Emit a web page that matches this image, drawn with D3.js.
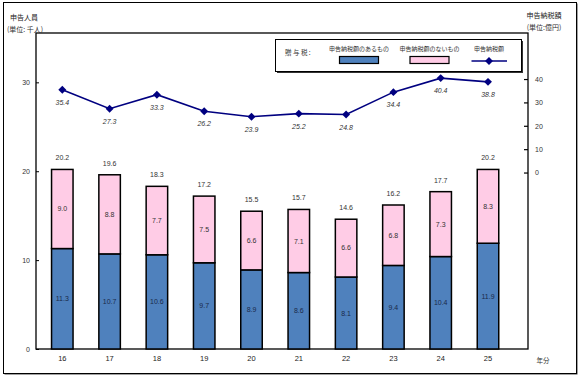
<!DOCTYPE html>
<html><head><meta charset="utf-8">
<script src="https://cdn.jsdelivr.net/npm/d3@7"></script>
<style>body{margin:0;background:#fff}svg{display:block}text{font-family:"Liberation Sans",Arial,sans-serif}</style>
</head><body>
<svg id="c" width="580" height="378"></svg>
<script>
const years = ["16","17","18","19","20","21","22","23","24","25"];
const withTax = [11.3,10.7,10.6,9.7,8.9,8.6,8.1,9.4,10.4,11.9];
const withoutTax = [9.0,8.8,7.7,7.5,6.6,7.1,6.6,6.8,7.3,8.3];
const totals = [20.2,19.6,18.3,17.2,15.5,15.7,14.6,16.2,17.7,20.2];
const taxAmount = [35.4,27.3,33.3,26.2,23.9,25.2,24.8,34.4,40.4,38.8];
const leftTicks = [0,10,20,30];
const rightTicks = [0,10,20,30,40];

const svg = d3.select("#c");
const jp = '"Noto Sans CJK JP","Noto Sans",sans-serif';
// outer frame with slight shadow
svg.append("rect").attr("x",4.5).attr("y",3.5).attr("width",573).attr("height",371).attr("fill","#444");
svg.append("rect").attr("x",3.5).attr("y",2.5).attr("width",573).attr("height",371)
  .attr("fill","#fff").attr("stroke","#000").attr("stroke-width",1);

const L=36, R=528, T=33, B=349;
const x = d3.scalePoint().domain(years).range([62.3,488]);
const y = d3.scaleLinear().domain([0,35.55]).range([B,T]);
const y2 = d3.scaleLinear().domain([-75.5,59.7]).range([B,T]);
const bw = 21.5;

// plot frame
svg.append("rect").attr("x",L).attr("y",T).attr("width",R-L).attr("height",B-T)
  .attr("fill","none").attr("stroke","#000").attr("stroke-width",1.3);

// left axis
const ga = svg.append("g").attr("transform",`translate(${L},0)`)
  .call(d3.axisRight(y).tickValues(leftTicks).tickSize(3).tickFormat(d3.format("d")));
ga.select(".domain").remove();
ga.selectAll("text").attr("x",-6).attr("text-anchor","end").style("font-size","7px").attr("fill","#333");
// right axis
const gb = svg.append("g").attr("transform",`translate(${R},0)`)
  .call(d3.axisLeft(y2).tickValues(rightTicks).tickSize(4).tickFormat(d3.format("d")));
gb.select(".domain").remove();
gb.selectAll("line").attr("stroke-width",1.2);
gb.selectAll("text").attr("x",7).attr("text-anchor","start").style("font-size","7px").attr("fill","#333");

// bars
const data = years.map((yr,i)=>({yr,a:withTax[i],b:withoutTax[i],t:totals[i],m:taxAmount[i]}));
const g = svg.append("g");
g.selectAll(".ba").data(data).join("rect")
  .attr("x",d=>x(d.yr)-bw/2).attr("width",bw)
  .attr("y",d=>y(d.a)).attr("height",d=>y(0)-y(d.a))
  .attr("fill","#4F81BD").attr("stroke","#000").attr("stroke-width",1.5);
g.selectAll(".bb").data(data).join("rect")
  .attr("x",d=>x(d.yr)-bw/2).attr("width",bw)
  .attr("y",d=>y(d.t)).attr("height",d=>y(d.a)-y(d.t))
  .attr("fill","#FFCCE6").attr("stroke","#000").attr("stroke-width",1.5);
// labels
g.selectAll(".la").data(data).join("text")
  .attr("x",d=>x(d.yr)).attr("y",d=>y(d.a/2)+2.5).attr("text-anchor","middle")
  .style("font-size","7px").attr("fill","#1a2a4a").text(d=>d.a.toFixed(1));
g.selectAll(".lb").data(data).join("text")
  .attr("x",d=>x(d.yr)).attr("y",d=>y(d.a+d.b/2)+2.5).attr("text-anchor","middle")
  .style("font-size","7px").attr("fill","#333").text(d=>d.b.toFixed(1));
g.selectAll(".lt").data(data).join("text")
  .attr("x",d=>x(d.yr)).attr("y",d=>y(d.t)-9).attr("text-anchor","middle")
  .style("font-size","7px").attr("fill","#333").text(d=>d.t.toFixed(1));
// x labels
g.selectAll(".xl").data(years).join("text")
  .attr("x",d=>x(d)).attr("y",360.5).attr("text-anchor","middle")
  .style("font-size","7.5px").attr("fill","#222").text(d=>d);
svg.append("text").attr("x",543).attr("y",363).attr("text-anchor","middle")
  .style("font-size","6.5px").style("font-family",jp).attr("fill","#333").text("年分");

// line
const line = d3.line().x(d=>x(d.yr)).y(d=>y2(d.m));
g.append("path").datum(data).attr("d",line).attr("fill","none").attr("stroke","#000080").attr("stroke-width",1.6);
const diamond = d3.symbol().type(d3.symbolDiamond2).size(40);
g.selectAll(".pt").data(data).join("path")
  .attr("transform",d=>`translate(${x(d.yr)},${y2(d.m)})`).attr("d",diamond).attr("fill","#000080");
g.selectAll(".lm").data(data).join("text")
  .attr("x",d=>x(d.yr)).attr("y",d=>y2(d.m)+15).attr("text-anchor","middle")
  .style("font-size","7px").style("font-style","italic").attr("fill","#333").text(d=>d.m.toFixed(1));

// titles
svg.append("text").attr("x",24).attr("y",20).attr("text-anchor","middle")
  .style("font-size","7px").style("font-family",jp).attr("fill","#222").text("申告人員");
svg.append("text").attr("x",25).attr("y",31.5).attr("text-anchor","middle")
  .style("font-size","7px").style("font-family",jp).attr("fill","#333").text("(単位: 千人)");
svg.append("text").attr("x",544).attr("y",18).attr("text-anchor","middle")
  .style("font-size","7px").style("font-family",jp).attr("fill","#222").text("申告納税額");
svg.append("text").attr("x",544).attr("y",30).attr("text-anchor","middle")
  .style("font-size","7px").style("font-family",jp).attr("fill","#333").text("(単位:億円)");

// legend
svg.append("rect").attr("x",277).attr("y",41).attr("width",246).attr("height",32).attr("fill","#333");
svg.append("rect").attr("x",275.5).attr("y",39.5).attr("width",246).attr("height",32)
  .attr("fill","#fff").attr("stroke","#000").attr("stroke-width",1);
svg.append("text").attr("x",285).attr("y",55).style("font-size","6.5px").style("font-family",jp)
  .attr("fill","#333").text("贈 与 税 :");
const leg = [{t:"申告納税額のあるもの",c:"#4F81BD",cx:359},{t:"申告納税額のないもの",c:"#FFCCE6",cx:429.5}];
leg.forEach(l=>{
  svg.append("text").attr("x",l.cx).attr("y",51).attr("text-anchor","middle")
    .style("font-size","6px").style("font-family",jp).attr("fill","#333").text(l.t);
  svg.append("rect").attr("x",l.cx-19.5).attr("y",56.5).attr("width",39).attr("height",7)
    .attr("fill",l.c).attr("stroke","#000").attr("stroke-width",1.2);
});
svg.append("text").attr("x",489).attr("y",51).attr("text-anchor","middle")
  .style("font-size","6px").style("font-family",jp).attr("fill","#333").text("申告納税額");
svg.append("line").attr("x1",471.5).attr("x2",507).attr("y1",61).attr("y2",61).attr("stroke","#000080").attr("stroke-width",1.6);
svg.append("path").attr("transform","translate(489,61)").attr("d",diamond).attr("fill","#000080");
</script>
</body></html>
